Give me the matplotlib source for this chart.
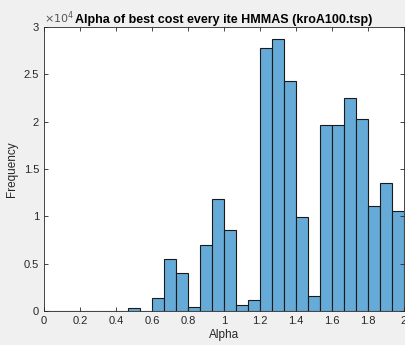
import matplotlib.pyplot as plt
import numpy as np

plt.rcParams['font.family'] = ['Liberation Sans', 'DejaVu Sans']

# histogram counts, 30 bins of width 1/15 between 0 and 2
bin_edges = np.linspace(0, 2, 31)
counts = [40, 30, 30, 30, 30, 30, 30, 280, 30, 1370,
          5500, 4000, 450, 7000, 11850, 8550, 650, 1170, 27800, 28700,
          24250, 9900, 1550, 19600, 19600, 22550, 20250, 11100, 13500, 10550]
ytick_vals = [0, 0.5, 1, 1.5, 2, 2.5, 3]
xtick_vals = [0, 0.2, 0.4, 0.6, 0.8, 1, 1.2, 1.4, 1.6, 1.8, 2]

centers = (bin_edges[:-1] + bin_edges[1:]) / 2
dark = '#262626'

fig = plt.figure(figsize=(4.05, 3.45), dpi=100, facecolor='#f0f0f0')
ax = fig.add_axes([0.1086, 0.0986, 0.889, 0.823])
ax.hist(centers, bins=bin_edges, weights=counts, color='#66aad7',
        edgecolor='#1a1a1a', linewidth=0.8)

ax.set_xlim(0, 2)
ax.set_ylim(0, 30000)
ax.set_xticks(xtick_vals)
ax.set_xticklabels(['%g' % v for v in xtick_vals])
ax.set_yticks([v * 1e4 for v in ytick_vals])
ax.set_yticklabels(['%g' % v for v in ytick_vals])
ax.tick_params(direction='in', top=True, right=True, labelsize=8,
               colors=dark, length=3, width=0.6)
for s in ax.spines.values():
    s.set_color(dark)
    s.set_linewidth(0.6)

ax.text(0.0, 1.005, r'$\times10^{4}$', transform=ax.transAxes, fontsize=8,
        color='#555555', ha='left', va='bottom')
ax.set_title('Alpha of best cost every ite HMMAS (kroA100.tsp)',
             fontsize=9, fontweight='bold', pad=3)
ax.set_xlabel('Alpha', fontsize=8.5, color=dark, labelpad=2)
ax.set_ylabel('Frequency', fontsize=8.5, color=dark, labelpad=4)

fig.savefig('out.png', dpi=100, facecolor=fig.get_facecolor())
